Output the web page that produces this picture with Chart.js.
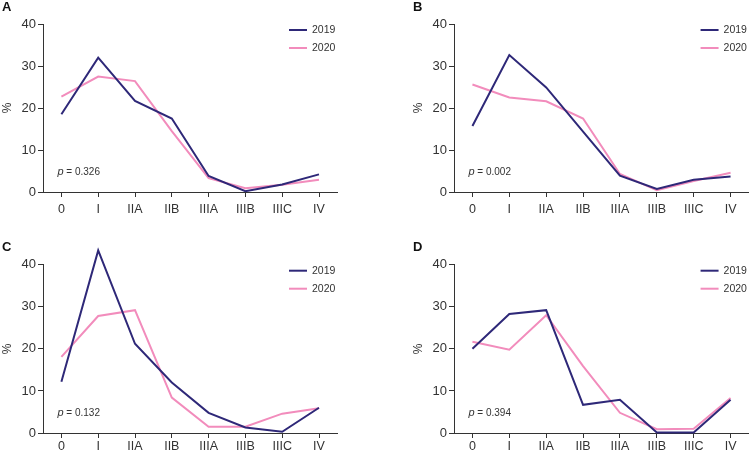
<!DOCTYPE html>
<html>
<head>
<meta charset="utf-8">
<script src="https://cdn.jsdelivr.net/npm/chart.js@4"></script>
<style>
  body { margin: 0; background: #fff; }
  #wrap { position: relative; width: 749px; height: 453px; overflow: hidden; }
  canvas { position: absolute; }
</style>
</head>
<body>
<div id="wrap">
  <canvas id="chartA" width="375" height="226" style="left:0;top:0"></canvas>
  <canvas id="chartB" width="338" height="226" style="left:411px;top:0"></canvas>
  <canvas id="chartC" width="375" height="227" style="left:0;top:226px"></canvas>
  <canvas id="chartD" width="338" height="227" style="left:411px;top:226px"></canvas>
</div>
<script>
// Data
const stages = ['0', 'I', 'IIA', 'IIB', 'IIIA', 'IIIB', 'IIIC', 'IV'];
const seriesNames = ['2019', '2020'];

const a2019 = [18.5, 32.0, 21.7, 17.5, 3.8, 0.2, 1.8, 4.2];
const a2020 = [22.7, 27.5, 26.4, 14.5, 3.3, 0.9, 1.7, 2.9];

const b2019 = [15.7, 32.6, 24.9, 14.4, 3.9, 0.7, 2.9, 3.7];
const b2020 = [25.6, 22.5, 21.6, 17.5, 4.3, 0.4, 2.6, 4.6];

const c2019 = [12.2, 43.4, 21.2, 12.0, 4.8, 1.3, 0.3, 6.0];
const c2020 = [18.1, 27.8, 29.2, 8.4, 1.5, 1.5, 4.6, 5.9];

const d2019 = [20.0, 28.3, 29.2, 6.7, 7.9, 0.1, 0.1, 7.9];
const d2020 = [21.7, 19.8, 28.0, 15.9, 4.8, 0.9, 1.0, 8.3];

const pValues = ['0.326', '0.002', '0.132', '0.394'];
const panelLetters = ['A', 'B', 'C', 'D'];
const yMax = 40;
const yStep = 10;

// Styles
const COLOR_2019 = '#2e2878';
const COLOR_2020 = '#f28cbc';
const TEXT = '#333333';
const FONT = "'Liberation Sans', Arial, sans-serif";

// Panel letter, legend and p value
const annotations = {
  id: 'annotations',
  afterDraw(chart, args, opts) {
    const ctx = chart.ctx;
    const area = chart.chartArea;
    const xScale = chart.scales.x;
    const x0 = xScale.getPixelForValue(0);
    const xLast = xScale.getPixelForValue(stages.length - 1);
    ctx.save();

    // panel letter
    ctx.fillStyle = '#111';
    ctx.font = `bold 13px ${FONT}`;
    ctx.textBaseline = 'middle';
    ctx.textAlign = 'left';
    ctx.fillText(opts.letter, 2, opts.letterY);

    // legend
    const colors = [COLOR_2019, COLOR_2020];
    const lx = xLast - 30;
    ctx.font = `10.5px ${FONT}`;
    ctx.lineWidth = 2;
    seriesNames.forEach((name, i) => {
      const ly = area.top + 6 + i * 18;
      ctx.strokeStyle = colors[i];
      ctx.beginPath();
      ctx.moveTo(lx, ly);
      ctx.lineTo(lx + 18, ly);
      ctx.stroke();
      ctx.fillStyle = TEXT;
      ctx.fillText(name, lx + 23, ly);
    });

    // p value
    const py = area.bottom - 20;
    ctx.font = `italic 11px ${FONT}`;
    ctx.fillStyle = TEXT;
    ctx.fillText('p', x0 - 4, py);
    const pw = ctx.measureText('p').width;
    ctx.font = `10px ${FONT}`;
    ctx.fillText(' = ' + pValues[opts.index], x0 - 4 + pw, py);

    ctx.restore();
  }
};

function makeChart(id, index, data2019, data2020, pad, xHeight, labelPad, letterY) {
  return new Chart(document.getElementById(id), {
    type: 'line',
    data: {
      labels: stages,
      datasets: [
        { label: seriesNames[0], data: data2019, borderColor: COLOR_2019, borderWidth: 2, clip: false },
        { label: seriesNames[1], data: data2020, borderColor: COLOR_2020, borderWidth: 2, clip: false }
      ]
    },
    options: {
      responsive: false,
      animation: false,
      devicePixelRatio: 1,
      layout: { padding: pad },
      elements: {
        point: { radius: 0, hoverRadius: 0 },
        line: { tension: 0 }
      },
      plugins: {
        legend: { display: false },
        tooltip: { enabled: false },
        annotations: { letter: panelLetters[index], index: index, letterY: letterY }
      },
      scales: {
        x: {
          type: 'category',
          offset: true,
          grid: { drawOnChartArea: false, tickLength: 5, color: TEXT, lineWidth: 1 },
          border: { color: TEXT, width: 1 },
          ticks: { color: TEXT, font: { family: FONT, size: 12.5 }, padding: labelPad, maxRotation: 0, autoSkip: false },
          afterFit(s) { s.height = xHeight; }
        },
        y: {
          min: 0,
          max: yMax,
          ticks: { stepSize: yStep, color: TEXT, font: { family: FONT, size: 13 }, padding: 2 },
          grid: { drawOnChartArea: false, tickLength: 5, color: TEXT, lineWidth: 1 },
          border: { color: TEXT, width: 1 },
          title: { display: true, text: '%', color: TEXT, font: { family: FONT, size: 12 }, padding: 0 },
          afterFit(s) { s.width = 43; }
        }
      }
    },
    plugins: [annotations]
  });
}

makeChart('chartA', 0, a2019, a2020, { top: 24, right: 37.6, bottom: 0, left: 0 }, 34, 5, 7);
makeChart('chartB', 1, b2019, b2020, { top: 24, right: 0, bottom: 0, left: 0 }, 34, 5, 7);
makeChart('chartC', 2, c2019, c2020, { top: 38.7, right: 37.6, bottom: 0, left: 0 }, 20, 1, 21);
makeChart('chartD', 3, d2019, d2020, { top: 38.7, right: 0, bottom: 0, left: 0 }, 20, 1, 21);
</script>
</body>
</html>
